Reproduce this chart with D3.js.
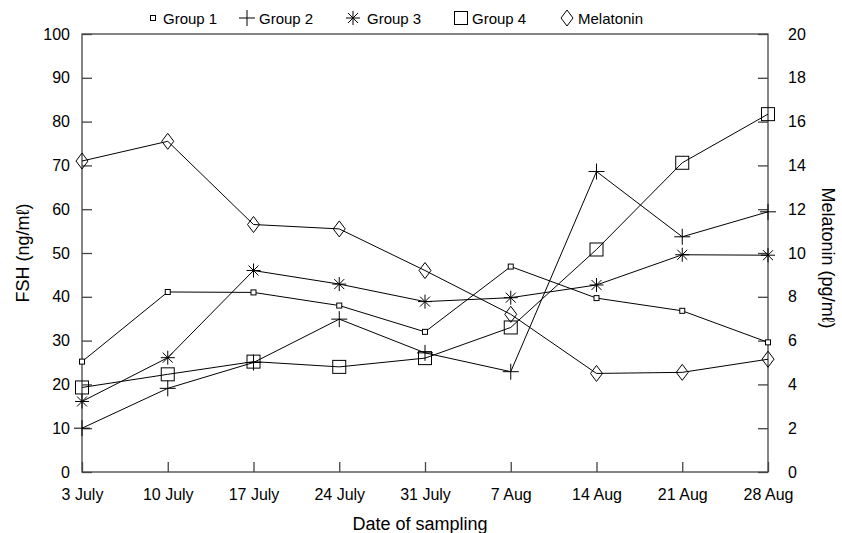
<!DOCTYPE html>
<html>
<head>
<meta charset="utf-8">
<script src="https://cdn.jsdelivr.net/npm/d3@7"></script>
<style>
body { margin: 0; background: #fff; }
text { font-family: "Liberation Sans", Arial, Helvetica, sans-serif; fill: #000; }
</style>
</head>
<body>
<div id="chart"></div>
<script>
var dates = ["3 July", "10 July", "17 July", "24 July", "31 July", "7 Aug", "14 Aug", "21 Aug", "28 Aug"]
var group1 = [25.2, 41.1, 41.0, 38.0, 32.0, 46.9, 39.7, 36.8, 29.6]
var group2 = [10.0, 19.1, 25.0, 34.9, 27.2, 22.9, 68.6, 53.7, 59.4]
var group3 = [16.1, 26.1, 46.0, 42.9, 38.9, 39.8, 42.7, 49.6, 49.5]
var group4 = [19.3, 22.3, 25.2, 24.0, 26.0, 33.0, 50.8, 70.6, 81.7]
var melatonin = [14.2, 15.1, 11.3, 11.1, 9.2, 7.2, 4.5, 4.55, 5.15]
var fshTicks = [0, 10, 20, 30, 40, 50, 60, 70, 80, 90, 100]
var melTicks = [0, 2, 4, 6, 8, 10, 12, 14, 16, 18, 20]

var width = 842, height = 533
var pLeft = 82, pRight = 768, pTop = 34, pBottom = 472

var svg = d3.select("#chart").append("svg").attr("width", width).attr("height", height)

var x = d3.scalePoint().domain(dates).range([pLeft, pRight])
var y = d3.scaleLinear().domain([0, 100]).range([pBottom, pTop])
var y2 = d3.scaleLinear().domain([0, 20]).range([pBottom, pTop])

// frame
svg.append("rect").attr("x", pLeft).attr("y", pTop).attr("width", pRight - pLeft).attr("height", pBottom - pTop)
	.attr("fill", "none").attr("stroke", "#444").attr("stroke-width", 1.3)

// left axis
var gl = svg.append("g").attr("transform", "translate(" + pLeft + ",0)")
	.call(d3.axisLeft(y).tickValues(fshTicks).tickSizeInner(-10).tickSizeOuter(0).tickPadding(12))
gl.select(".domain").remove()
gl.selectAll("line").attr("stroke", "#444").attr("stroke-width", 1.3)
gl.selectAll("text").attr("font-size", 16).attr("font-family", "Liberation Sans, Arial, sans-serif")

// right axis
var gr = svg.append("g").attr("transform", "translate(" + pRight + ",0)")
	.call(d3.axisRight(y2).tickValues(melTicks).tickSizeInner(-10).tickSizeOuter(0).tickPadding(20))
gr.select(".domain").remove()
gr.selectAll("line").attr("stroke", "#444").attr("stroke-width", 1.3)
gr.selectAll("text").attr("font-size", 16).attr("font-family", "Liberation Sans, Arial, sans-serif")

// bottom axis
var gb = svg.append("g").attr("transform", "translate(0," + pBottom + ")")
	.call(d3.axisBottom(x).tickSizeInner(-10).tickSizeOuter(0).tickPadding(17))
gb.select(".domain").remove()
gb.selectAll("line").attr("stroke", "#444").attr("stroke-width", 1.3)
gb.selectAll("text").attr("font-size", 16).attr("font-family", "Liberation Sans, Arial, sans-serif")

// axis titles
svg.append("text").attr("transform", "translate(29,253) rotate(-90)")
	.attr("text-anchor", "middle").attr("font-size", 18).text("FSH (ng/mℓ)")
svg.append("text").attr("transform", "translate(822,258) rotate(90)")
	.attr("text-anchor", "middle").attr("font-size", 18).text("Melatonin (pg/mℓ)")
svg.append("text").attr("x", 420).attr("y", 530)
	.attr("text-anchor", "middle").attr("font-size", 18).text("Date of sampling")

// marker shapes
function smallSquare(g) {
	g.append("rect").attr("x", -2.5).attr("y", -2.5).attr("width", 5).attr("height", 5)
		.attr("fill", "#fff").attr("stroke", "#000").attr("stroke-width", 1)
}
function plus(g) {
	g.append("path").attr("d", "M-8,0H8M0,-8V8").attr("stroke", "#000").attr("stroke-width", 1)
}
function asterisk(g) {
	g.append("path").attr("d", "M-7,0H7M0,-7V7M-5,-5L5,5M-5,5L5,-5").attr("stroke", "#000").attr("stroke-width", 1)
}
function bigSquare(g) {
	g.append("rect").attr("x", -6.5).attr("y", -6.5).attr("width", 13).attr("height", 13)
		.attr("fill", "none").attr("stroke", "#000").attr("stroke-width", 1)
}
function diamond(g) {
	g.append("path").attr("d", "M0,-8L6,0L0,8L-6,0Z").attr("fill", "none").attr("stroke", "#000").attr("stroke-width", 1)
}

var series = [
	{name: "Group 1", values: group1, scale: y, marker: smallSquare},
	{name: "Group 2", values: group2, scale: y, marker: plus},
	{name: "Group 3", values: group3, scale: y, marker: asterisk},
	{name: "Group 4", values: group4, scale: y, marker: bigSquare},
	{name: "Melatonin", values: melatonin, scale: y2, marker: diamond}
]

series.forEach(function(s) {
	var line = d3.line().x(function(d, i){return x(dates[i])}).y(function(d){return s.scale(d)})
	svg.append("path").datum(s.values).attr("d", line)
		.attr("fill", "none").attr("stroke", "#000").attr("stroke-width", 1)
	svg.selectAll(null).data(s.values).enter().append("g")
		.attr("transform", function(d, i){return "translate(" + x(dates[i]) + "," + s.scale(d) + ")"})
		.each(function(){ s.marker(d3.select(this)) })
})

// legend
var legendX = [153, 247, 353, 461, 567]
var legendTextX = [163, 259, 367, 472, 578]
series.forEach(function(s, i) {
	var g = svg.append("g").attr("transform", "translate(" + legendX[i] + ",18)")
	s.marker(g)
	svg.append("text").attr("x", legendTextX[i]).attr("y", 23.5).attr("font-size", 15).text(s.name)
})
</script>
</body>
</html>
